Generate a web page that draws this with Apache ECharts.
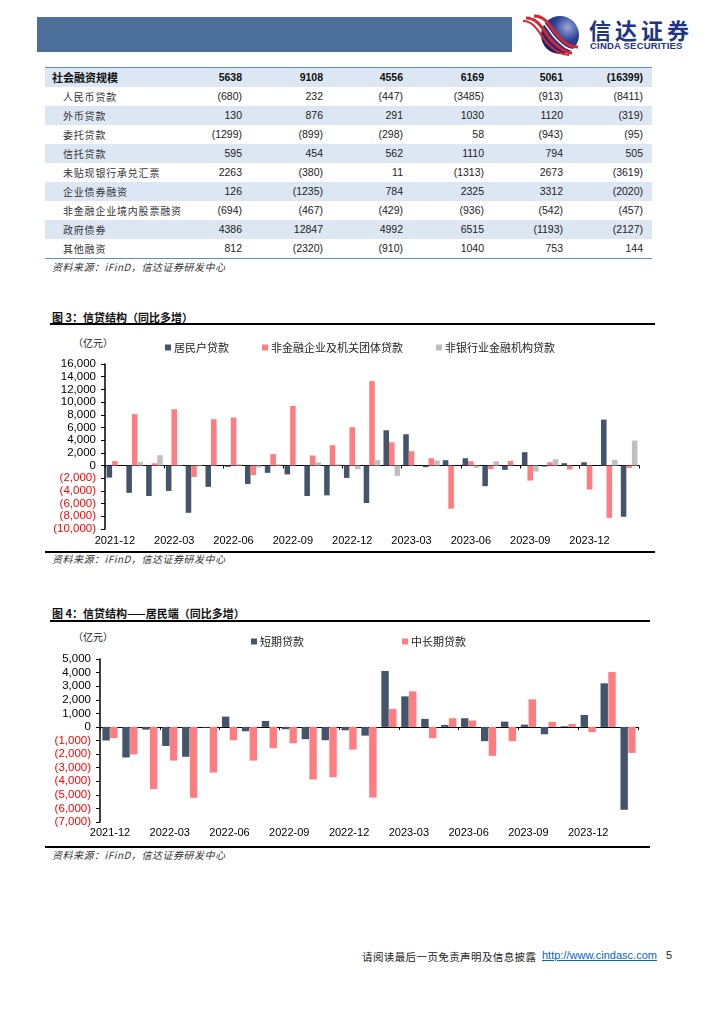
<!DOCTYPE html>
<html>
<head>
<meta charset="utf-8">
<script src="https://cdn.jsdelivr.net/npm/echarts@6/dist/echarts.min.js"></script>
<style>
  html, body { margin: 0; padding: 0; background: #fff; }
  #page { position: relative; width: 724px; height: 1024px; background: #fff; overflow: hidden;
          font-family: "Noto Sans CJK SC", "Liberation Sans", sans-serif; }
  .abs { position: absolute; white-space: nowrap; }
  .src { font-size: 10px; font-style: italic; color: #333; letter-spacing: 0.5px; }
  .ttl { font-size: 11px; font-weight: bold; color: #111; }
  .hline { position: absolute; background: #000; }
  .row { position: absolute; left: 0; width: 607px; height: 19px; }
  .lab { position: absolute; top: 0; line-height: 19px; font-size: 10px; color: #333; letter-spacing: 0.8px; }
  .val { position: absolute; top: 0; line-height: 19px; font-size: 10.5px; color: #222;
         font-family: "Liberation Sans", "DejaVu Sans", sans-serif; text-align: right; }
  #chart { position: absolute; left: 0; top: 0; width: 724px; height: 1024px; }
</style>
</head>
<body>
<div id="page">
  <!-- header -->
  <div class="abs" style="left:37px;top:17px;width:475px;height:35px;background:#4b6f99;"></div>
  <svg class="abs" style="left:522px;top:13px" width="64" height="44" viewBox="0 0 64 44">
    <defs>
      <radialGradient id="lg" cx="0.7" cy="0.3" r="0.8">
        <stop offset="0" stop-color="#9aa8d8"/>
        <stop offset="0.45" stop-color="#2c3f92"/>
        <stop offset="1" stop-color="#141f66"/>
      </radialGradient>
    </defs>
    <circle cx="38" cy="22" r="19" fill="url(#lg)"/>
    <path d="M4 5 C 18 5, 22 20, 30 28 S 44 40, 50 40" fill="none" stroke="#d7262e" stroke-width="3"/>
    <path d="M9 4 C 22 4, 26 18, 34 26 S 46 37, 53 37" fill="none" stroke="#ffffff" stroke-width="1.5"/>
    <path d="M12 3 C 25 3, 29 16, 37 24 S 49 34, 56 34" fill="none" stroke="#d7262e" stroke-width="3"/>
    <path d="M1 8 C 14 8, 18 23, 26 31 S 40 42, 47 42" fill="none" stroke="#d7262e" stroke-width="2"/>
  </svg>
  <div class="abs" style="left:589px;top:16px;font-size:22px;font-weight:bold;color:#1c3584;letter-spacing:4px;line-height:26px;">信达证券</div>
  <div class="abs" style="left:590px;top:40px;font-size:9.5px;font-weight:bold;color:#1c3584;font-family:'Liberation Sans',sans-serif;letter-spacing:0.2px;line-height:11px;">CINDA SECURITIES</div>

  <!-- table -->
  <div id="tbl" class="abs" style="left:45px;top:67px;width:607px;height:192px;">
    <div class="abs" style="left:0;top:0;width:607px;height:2px;background:#5b8bd0;"></div>
    <div class="abs" style="left:0;top:190px;width:607px;height:2px;background:#5b8bd0;"></div>
  </div>
  <div class="abs src" style="left:52px;top:259px;">资料来源：iFinD，信达证券研发中心</div>

  <!-- figure 3 -->
  <div class="abs ttl" style="left:52px;top:309px;">图 3：信贷结构（同比多增）</div>
  <div class="hline" style="left:50px;top:323px;width:605px;height:2px;"></div>
  <div class="abs" style="left:73px;top:335px;font-size:10px;color:#222;">（亿元）</div>
  <div class="hline" style="left:45px;top:551px;width:610px;height:1.5px;"></div>
  <div class="abs src" style="left:52px;top:551px;">资料来源：iFinD，信达证券研发中心</div>

  <!-- figure 4 -->
  <div class="abs ttl" style="left:52px;top:605px;">图 4：信贷结构——居民端（同比多增）</div>
  <div class="hline" style="left:50px;top:620px;width:600px;height:2px;"></div>
  <div class="abs" style="left:73px;top:629px;font-size:10px;color:#222;">（亿元）</div>
  <div class="hline" style="left:45px;top:846px;width:605px;height:1.5px;"></div>
  <div class="abs src" style="left:52px;top:847px;">资料来源：iFinD，信达证券研发中心</div>

  <!-- footer -->
  <div class="abs" style="left:362px;top:949px;font-size:10.5px;color:#222;letter-spacing:0.4px;">请阅读最后一页免责声明及信息披露</div>
  <div class="abs" style="left:542px;top:949px;font-size:11px;color:#0563c1;text-decoration:underline;font-family:'Liberation Sans',sans-serif;">http://www.cindasc.com</div>
  <div class="abs" style="left:666px;top:949px;font-size:11px;color:#222;font-family:'Liberation Sans',sans-serif;">5</div>

  <div id="chart"></div>
</div>

<script>
// ---------------- table data ----------------
const tableLabels = ['社会融资规模','人民币贷款','外币贷款','委托贷款','信托贷款','未贴现银行承兑汇票','企业债券融资','非金融企业境内股票融资','政府债券','其他融资'];
const rowTSF      = [5638, 9108, 4556, 6169, 5061, -16399];
const rowRMB      = [-680, 232, -447, -3485, -913, -8411];
const rowFX       = [130, 876, 291, 1030, 1120, -319];
const rowEntrust  = [-1299, -899, -298, 58, -943, -95];
const rowTrust    = [595, 454, 562, 1110, 794, 505];
const rowBill     = [2263, -380, 11, -1313, 2673, -3619];
const rowBond     = [126, -1235, 784, 2325, 3312, -2020];
const rowEquity   = [-694, -467, -429, -936, -542, -457];
const rowGov      = [4386, 12847, 4992, 6515, -1193, -2127];
const rowOther    = [812, -2320, -910, 1040, 753, 144];
const tableRows = [rowTSF, rowRMB, rowFX, rowEntrust, rowTrust, rowBill, rowBond, rowEquity, rowGov, rowOther];

// ---------------- chart data ----------------
const months = ['2021-12','2022-01','2022-02','2022-03','2022-04','2022-05','2022-06','2022-07','2022-08','2022-09','2022-10','2022-11','2022-12',
                '2023-01','2023-02','2023-03','2023-04','2023-05','2023-06','2023-07','2023-08','2023-09','2023-10','2023-11','2023-12','2024-01','2024-02'];
const fig3Names = ['居民户贷款','非金融企业及机关团体贷款','非银行业金融机构贷款'];
const household = [-1900,-4300,-4800,-4000,-7450,-3360,-200,-2900,-1150,-1400,-4800,-4700,-1950,-5900,5560,4930,-260,840,1150,-3250,-680,2100,-160,370,520,7240,-8080];
const nonFinCorp = [700,8100,350,8870,-1800,7300,7560,-1500,1800,9400,1580,3200,6040,13300,3670,2260,1150,-6800,680,-580,730,-2360,520,-630,-3780,-8240,-370];
const nonBankFin = [0,550,1630,-100,-100,0,200,-300,200,0,500,200,-580,850,-1630,0,800,0,-370,680,0,-940,1000,0,0,890,3940];

const fig4Names = ['短期贷款','中长期贷款'];
const shortLoan = [-1000,-2250,-200,-1400,-2200,-50,760,-320,440,-170,-900,-980,-250,-640,4120,2250,590,150,640,-1050,390,170,-540,50,880,3210,-6100];
const midLongLoan = [-830,-2030,-4580,-2480,-5220,-3360,-980,-2480,-1570,-1200,-3870,-3700,-1670,-5200,1320,2620,-830,640,470,-2130,-1050,2030,370,220,-390,4040,-1910];

// ---------------- build table ----------------
(function buildTable(){
  const tbl = document.getElementById('tbl');
  const valRight = [410, 329, 249, 168, 89, 9]; // distance from table right edge
  tableRows.forEach((vals, i) => {
    const r = document.createElement('div');
    r.className = 'row';
    r.style.top = (1 + i * 19) + 'px';
    r.style.background = (i % 2 === 0) ? '#dde7f3' : '#ffffff';
    const l = document.createElement('div');
    l.className = 'lab';
    l.textContent = tableLabels[i];
    if (i === 0) { l.style.left = '7px'; l.style.fontWeight = 'bold'; l.style.fontSize = '11px'; l.style.letterSpacing = '0px'; l.style.color = '#111'; }
    else { l.style.left = '18px'; }
    r.appendChild(l);
    vals.forEach((v, j) => {
      const c = document.createElement('div');
      c.className = 'val';
      c.style.right = valRight[j] + 'px';
      c.textContent = v < 0 ? '(' + (-v) + ')' : String(v);
      if (i === 0) { c.style.fontWeight = 'bold'; c.style.color = '#111'; }
      r.appendChild(c);
    });
    tbl.appendChild(r);
  });
})();

// ---------------- charts ----------------
function thousands(v){ return String(v).replace(/\B(?=(\d{3})+(?!\d))/g, ','); }
function yFmt(v){ return v < 0 ? '{r|(' + thousands(-v) + ')}' : '{b|' + thousands(v) + '}'; }
const numFont = 'Liberation Sans';
const cjkFont = 'Noto Sans CJK SC';
const DARK = '#44546a', PINK = '#ff7c80', GREY = '#bfbfbf';

function yAxisCfg(grid, min, max, interval){
  return {
    type: 'value', gridIndex: grid, min: min, max: max, interval: interval,
    axisLine: { show: true, lineStyle: { color: '#000', width: 1.5 } },
    axisTick: { show: true, length: 4, lineStyle: { color: '#000' } },
    splitLine: { show: false },
    axisLabel: { formatter: yFmt, margin: 9,
      rich: { r: { color: '#ff0000', fontSize: 11.5, fontFamily: numFont },
              b: { color: '#000', fontSize: 11.5, fontFamily: numFont } } }
  };
}
function xLineAxis(grid){
  return {
    type: 'category', gridIndex: grid, data: months, position: 'bottom',
    axisLine: { show: true, onZero: true, lineStyle: { color: '#000', width: 1.2 } },
    axisTick: { show: true, interval: 2, length: 3, lineStyle: { color: '#000' } },
    axisLabel: { show: false }
  };
}
function xLabelAxis(grid, margin){
  return {
    type: 'category', gridIndex: grid, data: months, position: 'bottom',
    axisLine: { show: false, onZero: false },
    axisTick: { show: false },
    axisLabel: { show: true, interval: 2, margin: margin, color: '#000', fontSize: 11, fontFamily: numFont }
  };
}

const chart = echarts.init(document.getElementById('chart'), null, { renderer: 'canvas' });
chart.setOption({
  animation: false,
  backgroundColor: 'transparent',
  textStyle: { fontFamily: cjkFont },
  grid: [
    { left: 105, top: 364, width: 534, height: 165, containLabel: false },
    { left: 100, top: 659, width: 538, height: 163, containLabel: false }
  ],
  legend: [
    { data: fig3Names, left: 160, top: 337, itemWidth: 6, itemHeight: 6, itemGap: 33, icon: 'rect',
      textStyle: { fontSize: 11, color: '#222', fontFamily: cjkFont, padding: [0, 0, 0, -2] } },
    { data: fig4Names, left: 246, top: 631, itemWidth: 6, itemHeight: 6, itemGap: 98, icon: 'rect',
      textStyle: { fontSize: 11, color: '#222', fontFamily: cjkFont, padding: [0, 0, 0, -2] } }
  ],
  xAxis: [ xLineAxis(0), xLabelAxis(0, 6), xLineAxis(1), xLabelAxis(1, 5) ],
  yAxis: [ yAxisCfg(0, -10000, 16000, 2000), yAxisCfg(1, -7000, 5000, 1000) ],
  series: [
    { name: fig3Names[0], type: 'bar', xAxisIndex: 0, yAxisIndex: 0, data: household,
      itemStyle: { color: DARK }, barGap: '0%', barCategoryGap: '16%' },
    { name: fig3Names[1], type: 'bar', xAxisIndex: 0, yAxisIndex: 0, data: nonFinCorp,
      itemStyle: { color: PINK }, barGap: '0%', barCategoryGap: '16%' },
    { name: fig3Names[2], type: 'bar', xAxisIndex: 0, yAxisIndex: 0, data: nonBankFin,
      itemStyle: { color: GREY }, barGap: '0%', barCategoryGap: '16%' },
    { name: fig4Names[0], type: 'bar', xAxisIndex: 2, yAxisIndex: 1, data: shortLoan,
      itemStyle: { color: DARK }, barGap: '5%', barCategoryGap: '24%' },
    { name: fig4Names[1], type: 'bar', xAxisIndex: 2, yAxisIndex: 1, data: midLongLoan,
      itemStyle: { color: PINK }, barGap: '5%', barCategoryGap: '24%' }
  ]
});
</script>
</body>
</html>
